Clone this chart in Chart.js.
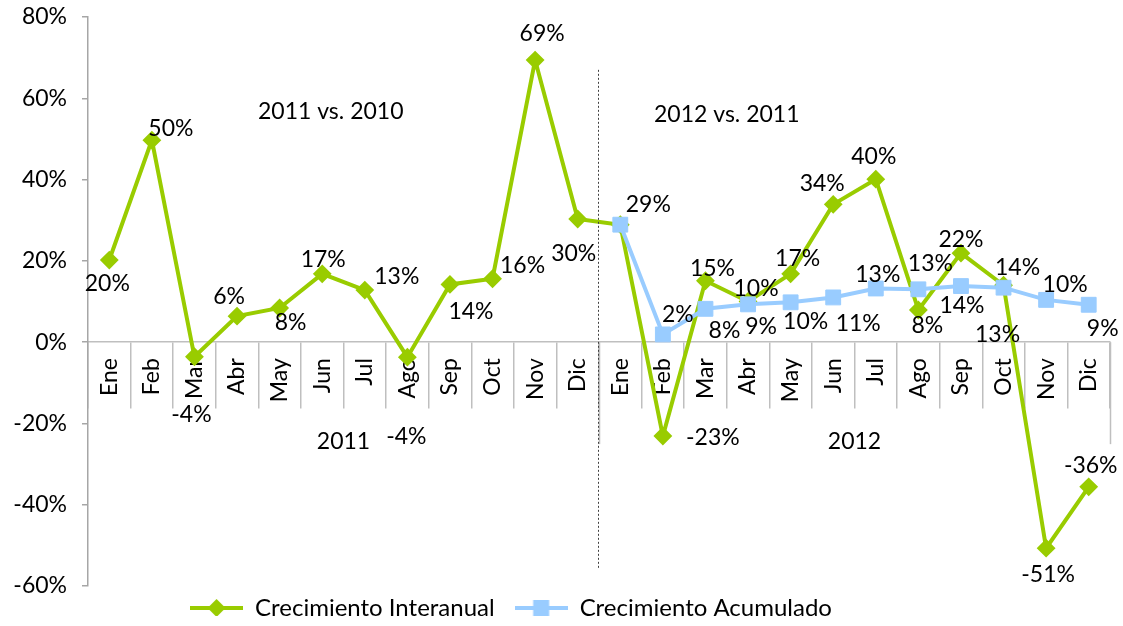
<!DOCTYPE html>
<html>
<head>
<meta charset="utf-8">
<script src="https://cdn.jsdelivr.net/npm/chart.js@4"></script>
<style>
  html, body { margin: 0; padding: 0; background: #fff; }
</style>
</head>
<body>
<canvas id="chart" width="1123" height="626"></canvas>
<script>
const meses = ["Ene", "Feb", "Mar", "Abr", "May", "Jun", "Jul", "Ago", "Sep", "Oct", "Nov", "Dic"];
const categories = meses.concat(meses);
const years = ["2011", "2012"];
const periodos = ["2011 vs. 2010", "2012 vs. 2011"];

const interanual = [20.2, 49.7, -3.6, 6.4, 8.4, 16.8, 12.8, -3.7, 14.2, 15.6, 69.4, 30.3,
                    28.9, -23.1, 15.1, 10.0, 16.8, 33.9, 40.1, 7.9, 21.9, 14.0, -50.7, -35.6];
const acumulado = [null, null, null, null, null, null, null, null, null, null, null, null,
                   28.9, 1.9, 8.2, 9.3, 9.8, 11.0, 13.2, 13.0, 13.8, 13.4, 10.4, 9.2];

const yMin = -60;
const yMax = 80;
const yStep = 20;

// where each data label sits relative to its point (dx, dy)
const offInteranual = [[-2, 24], [19, -12], [-3, 58], [-8, -20], [11, 15], [1, -14], [32, -14], [-1, 79],
                       [21, 27], [30, -13], [7, -27], [-4, 35], [28, -20], [50, 2], [7, -12], [8, -13],
                       [7, -15], [-11, -21], [-2, -23], [9, 16], [0, -14], [14, -18], [2, 26], [2, -21]];
const offAcumulado = [null, null, null, null, null, null, null, null, null, null, null, null,
                      null, [15, -20], [19, 22], [13, 22], [15, 19], [25, 26], [2, -14], [12, -26],
                      [1, 20], [-6, 47], [19, -15], [14, 24]];

const verde = "#99cc00";
const azul = "#99ccff";
const gris = "#bfbfbf";

Chart.defaults.font.family = "Lato, 'Open Sans', sans-serif";
Chart.defaults.font.size = 23;
Chart.defaults.color = "#000";

function legendIcon(color, style) {
  const c = document.createElement("canvas");
  c.width = 53;
  c.height = 20;
  const g = c.getContext("2d");
  g.strokeStyle = color;
  g.lineWidth = 4;
  g.beginPath();
  g.moveTo(0, 10);
  g.lineTo(53, 10);
  g.stroke();
  g.fillStyle = color;
  if (style === "diamond") {
    g.beginPath();
    g.moveTo(17.5, 10);
    g.lineTo(26.5, 1);
    g.lineTo(35.5, 10);
    g.lineTo(26.5, 19);
    g.closePath();
    g.fill();
  } else {
    g.fillRect(18.5, 2, 16, 16);
  }
  return c;
}

const extras = {
  id: "extras",
  afterLayout(chart) {
    // legend sits a little left of centre and higher in the original
    chart.legend.left -= 44;
    chart.legend.right -= 44;
    chart.legend.top -= 10;
    chart.legend.bottom -= 10;
  },
  afterDatasetsDraw(chart) {
    const { ctx } = chart;
    const x = chart.scales.x;
    const y = chart.scales.y;
    const y0 = y.getPixelForValue(0);
    ctx.save();

    // group separators of the category axis
    ctx.strokeStyle = gris;
    ctx.lineWidth = 1.5;
    [11.5, 23.5].forEach((v) => {
      const px = Math.round(x.getPixelForValue(v)) + 0.5;
      ctx.beginPath();
      ctx.moveTo(px, y0);
      ctx.lineTo(px, y0 + 102);
      ctx.stroke();
    });

    // dotted divider between years
    const mid = Math.round(x.getPixelForValue(11.5)) - 0.5;
    ctx.strokeStyle = "#404040";
    ctx.lineWidth = 1;
    ctx.setLineDash([2, 2]);
    ctx.beginPath();
    ctx.moveTo(mid, y.getPixelForValue(67));
    ctx.lineTo(mid, y.getPixelForValue(-56));
    ctx.stroke();
    ctx.setLineDash([]);

    ctx.fillStyle = "#000";
    ctx.font = "23px " + Chart.defaults.font.family;
    ctx.textAlign = "center";
    ctx.textBaseline = "middle";

    // year labels
    years.forEach((yr, k) => {
      ctx.fillText(yr, x.getPixelForValue(k * 12 + 5.5), y0 + 99);
    });

    // period titles
    ctx.fillText(periodos[0], x.getPixelForValue(5.2), y.getPixelForValue(56.8));
    ctx.fillText(periodos[1], x.getPixelForValue(14.5), y.getPixelForValue(56.1));

    // data labels
    chart.data.datasets.forEach((ds, i) => {
      const meta = chart.getDatasetMeta(i);
      meta.data.forEach((pt, j) => {
        const v = ds.data[j];
        const off = ds.labelOffsets[j];
        if (v == null || !off) return;
        ctx.fillText(Math.round(v) + "%", pt.x + off[0], pt.y + off[1]);
      });
    });
    ctx.restore();
  },
};

new Chart(document.getElementById("chart"), {
  type: "line",
  data: {
    labels: categories,
    datasets: [
      {
        label: "Crecimiento Interanual",
        data: interanual,
        labelOffsets: offInteranual,
        borderColor: verde,
        backgroundColor: verde,
        borderWidth: 4,
        pointStyle: "rectRot",
        pointRadius: 8,
        pointBorderWidth: 2,
        tension: 0,
        order: 1,
      },
      {
        label: "Crecimiento Acumulado",
        data: acumulado,
        labelOffsets: offAcumulado,
        borderColor: azul,
        backgroundColor: azul,
        borderWidth: 4,
        pointStyle: "rect",
        pointRadius: 10.5,
        pointBorderWidth: 1,
        tension: 0,
        order: 0,
      },
    ],
  },
  options: {
    responsive: false,
    animation: false,
    layout: { padding: { top: 17, right: 13, left: 0, bottom: 0 } },
    scales: {
      x: {
        type: "category",
        position: { y: 0 },
        offset: true,
        grid: {
          offset: true,
          drawOnChartArea: false,
          drawTicks: true,
          tickLength: 66,
          color: gris,
          lineWidth: 1.5,
        },
        border: { display: true, color: gris, width: 1.5 },
        ticks: { autoSkip: false, minRotation: 90, maxRotation: 90, padding: -50 },
      },
      y: {
        min: yMin,
        max: yMax,
        grid: { drawOnChartArea: false, drawTicks: true, tickLength: 6, color: "#a6a6a6", lineWidth: 1.5 },
        border: { display: true, color: "#a6a6a6", width: 1.5 },
        ticks: { stepSize: yStep, padding: 15, callback: (v) => v + "%" },
        afterFit: (scale) => {
          scale.width = 88;
          scale.paddingTop = 12;
          scale.paddingBottom = 12;
        },
      },
    },
    plugins: {
      tooltip: { enabled: false },
      legend: {
        position: "bottom",
        maxHeight: 40,
        labels: {
          usePointStyle: true,
          pointStyleWidth: 53,
          boxHeight: 20,
          padding: 20,
          font: { size: 24 },
          sort: (a, b) => a.datasetIndex - b.datasetIndex,
          generateLabels: (chart) => {
            const items = Chart.defaults.plugins.legend.labels.generateLabels(chart);
            items.forEach((it) => {
              it.pointStyle = it.datasetIndex === 0 ? legendIcon(verde, "diamond") : legendIcon(azul, "square");
            });
            return items;
          },
        },
      },
    },
  },
  plugins: [extras],
});
</script>
</body>
</html>
